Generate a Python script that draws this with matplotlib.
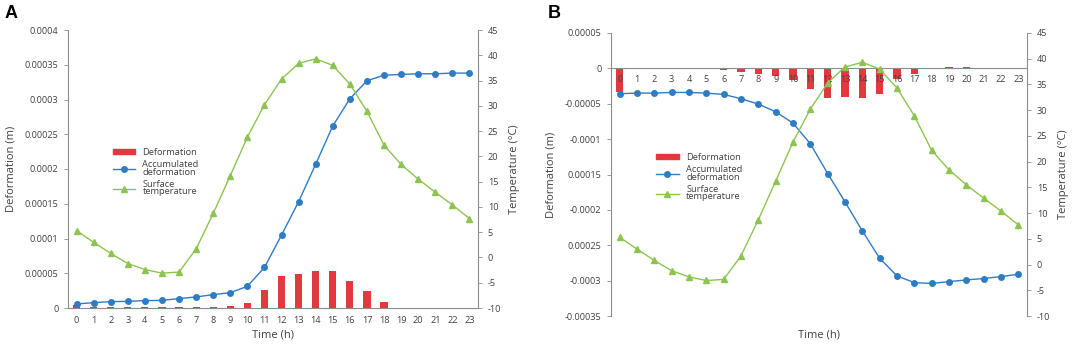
###############################################################################
### Hourly deformation and surface temperature, panels A and B
###############################################################################

#------------------------------------------------------------------------------
### Import packages
import matplotlib.pyplot as plt
from matplotlib.patches import Patch
from matplotlib.lines import Line2D


#------------------------------------------------------------------------------
### Data

hours = list(range(24))

# Surface temperature (degC), same in both panels
temperature = [5.3, 3.0, 0.8, -1.2, -2.4, -3.1, -2.9, 1.7, 8.7, 16.2, 23.8, 30.2,
               35.3, 38.4, 39.3, 38.0, 34.3, 28.9, 22.2, 18.4, 15.5, 12.9, 10.4, 7.7]

# Panel A (m)
deform_a = [0.0000043, 0.0000012, 0.000001, 0.000001, 0.000001, 0.000001, 0.0000015,
            0.0000018, 0.000002, 0.0000025, 0.0000075, 0.0000254, 0.0000465,
            0.0000489, 0.0000532, 0.0000532, 0.0000383, 0.000024, 0.0000086,
            0.0000005, 0.0000005, 0.0000005, 0.0000005, 0.0000005]
accum_a = [0.0000058, 0.0000077, 0.0000091, 0.0000096, 0.0000106, 0.000011,
           0.0000135, 0.0000159, 0.0000192, 0.0000221, 0.0000312, 0.0000584,
           0.000105, 0.000153, 0.000207, 0.000262, 0.000301, 0.000327, 0.000335,
           0.000336, 0.000337, 0.000337, 0.000338, 0.000338]

# Panel B (m)
deform_b = [-0.000033, -0.000001, -0.000001, -0.000001, -0.000001, 0.0,
            -0.0000024, -0.0000047, -0.000008, -0.0000108, -0.0000165,
            -0.0000297, -0.0000424, -0.00004, -0.0000424, -0.0000368,
            -0.0000156, -0.000008, -0.0000005, 0.0000015, 0.0000015,
            0.000001, 0.000001, 0.000001]
accum_b = [-0.0000358, -0.0000349, -0.000035, -0.000034, -0.000034, -0.000035,
           -0.0000368, -0.0000429, -0.0000505, -0.0000613, -0.0000774,
           -0.0001066, -0.0001486, -0.0001887, -0.0002297, -0.0002684,
           -0.0002934, -0.0003028, -0.000304, -0.0003014, -0.000299,
           -0.000297, -0.0002943, -0.000291]

# Tick labels as printed
yticks_a = [0, 0.00005, 0.0001, 0.00015, 0.0002, 0.00025, 0.0003, 0.00035, 0.0004]
ylabels_a = ['0', '0.00005', '0.0001', '0.00015', '0.0002', '0.00025', '0.0003',
             '0.00035', '0.0004']
yticks_b = [0.00005, 0, -0.00005, -0.0001, -0.00015, -0.0002, -0.00025, -0.0003,
            -0.00035]
ylabels_b = ['0.00005', '0', '-0.00005', '-0.0001', '0.00015', '-0.0002',
             '0.00025', '-0.0003', '-0.00035']
temp_ticks = list(range(-10, 50, 5))

legend_labels = ['Deformation', 'Accumulated\ndeformation', 'Surface\ntemperature']


#------------------------------------------------------------------------------
### Style

RED = '#E0393E'
BLUE = '#2E7CC4'
GREEN = '#8DC450'
TXT = '#404040'
SPINE = '#8C8C8C'
TICK_FS = 6.6
LABEL_FS = 8

plt.rcParams['font.family'] = ['Open Sans', 'DejaVu Sans']
plt.rcParams['axes.unicode_minus'] = False


def draw_panel(fig, rect, deform, accum, yticks, ylabels, ylim, letter, letter_x,
               legend_anchor, zero_axis):

	ax = fig.add_axes(rect)
	ax2 = ax.twinx()

	# Bars and accumulated line on the left axis
	ax.bar(hours, deform, width=0.42, color=RED, zorder=2)
	ax.plot(hours, accum, color=BLUE, marker='o', markersize=4, lw=1, zorder=3)
	ax2.plot(hours, temperature, color=GREEN, marker='^', markersize=4, lw=1)

	# Hour labels sit on top of the bars
	ax.set_axisbelow(False)

	ax.set_xlim(-0.5, 23.5)
	ax.set_ylim(*ylim)
	ax2.set_ylim(-10, 45)
	ax.set_yticks(yticks)
	ax.set_yticklabels(ylabels)
	ax2.set_yticks(temp_ticks)
	ax.set_xticks(hours)
	ax.set_xticklabels([str(h) for h in hours])

	for a in (ax, ax2):
		for s in a.spines.values():
			s.set_color(SPINE)
			s.set_linewidth(0.8)
		a.spines['top'].set_visible(False)
		a.tick_params(axis='y', labelsize=TICK_FS, colors=TXT, length=3,
		              width=0.6, color=SPINE, pad=4)
	ax.spines['right'].set_visible(False)
	ax2.spines['left'].set_visible(False)
	ax2.spines['bottom'].set_visible(False)
	ax.tick_params(axis='x', labelsize=TICK_FS, colors=TXT, length=0, pad=6)

	if zero_axis:
		ax.spines['bottom'].set_position(('data', 0))
		ax.tick_params(axis='x', pad=5)

	ax.set_ylabel('Deformation (m)', fontsize=LABEL_FS, color=TXT, labelpad=6)
	ax2.set_ylabel('Temperature (°C)', fontsize=LABEL_FS, color=TXT, labelpad=6)

	# Time label at the bottom
	x0, y0, w, h = rect
	fig.text(x0 + w / 2, 0.035, 'Time (h)', fontsize=LABEL_FS, color=TXT,
	         ha='center', va='center')

	# Panel letter
	fig.text(letter_x, 0.985, letter, fontsize=13, fontweight='bold',
	         family=['Liberation Sans', 'DejaVu Sans'], ha='left', va='top')

	# Legend
	handles = [Patch(color=RED),
	           Line2D([], [], color=BLUE, marker='o', markersize=4, lw=1),
	           Line2D([], [], color=GREEN, marker='^', markersize=4, lw=1)]
	leg = ax2.legend(handles, legend_labels, loc='upper left',
	                 bbox_to_anchor=legend_anchor, frameon=False,
	                 fontsize=6.7, handlelength=2.4, handleheight=0.5,
	                 labelspacing=0.35, borderaxespad=0)
	for t in leg.get_texts():
		t.set_color(TXT)
		t.set_linespacing(0.8)

	return ax, ax2


#------------------------------------------------------------------------------
### Figure

fig = plt.figure(figsize=(10.72, 3.47), dpi=100)

draw_panel(fig, [68 / 1072, 39 / 347, 410 / 1072, 278 / 347], deform_a, accum_a,
           yticks_a, ylabels_a, (0, 0.0004), 'A', 0.004, (0.1, 0.59), False)
draw_panel(fig, [611 / 1072, 31 / 347, 416 / 1072, 283 / 347], deform_b, accum_b,
           yticks_b, ylabels_b, (-0.00035, 0.00005), 'B', 0.511, (0.1, 0.59), True)

fig.savefig('out.png', dpi=100)
plt.close()
